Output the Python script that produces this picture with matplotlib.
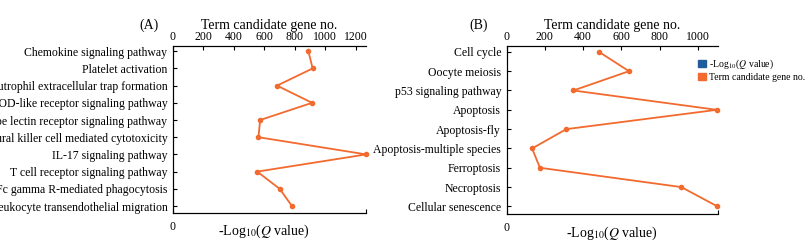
import numpy as np
import matplotlib
matplotlib.use('Agg')
import matplotlib.pyplot as plt
from matplotlib.patches import Patch

plt.rcParams['font.family'] = ['Liberation Serif', 'DejaVu Serif']
plt.rcParams['mathtext.fontset'] = 'stix'

ORANGE = '#f26a2e'
BLUE = '#1f5c99'

terms_a = ['Chemokine signaling pathway', 'Platelet activation',
           'Neutrophil extracellular trap formation', 'NOD-like receptor signaling pathway',
           'C-type lectin receptor signaling pathway', 'Natural killer cell mediated cytotoxicity',
           'IL-17 signaling pathway', 'T cell receptor signaling pathway',
           'Fc gamma R-mediated phagocytosis', 'Leukocyte transendothelial migration']
genes_a = [890, 918, 684, 914, 573, 562, 1270, 554, 701, 782]

terms_b = ['Cell cycle', 'Oocyte meiosis', 'p53 signaling pathway', 'Apoptosis',
           'Apoptosis-fly', 'Apoptosis-multiple species', 'Ferroptosis',
           'Necroptosis', 'Cellular senescence']
genes_b = [483, 640, 349, 1100, 312, 133, 174, 914, 1103]

xticks_a = [0, 200, 400, 600, 800, 1000, 1200]
xticks_b = [0, 200, 400, 600, 800, 1000]

fig = plt.figure(figsize=(8.12, 2.49), dpi=100)


def panel(rect, terms, genes, xmax, xticks, tag, tagx, labx):
    ax = fig.add_axes(rect)
    # bottom axis for -Log10(Q value), made first so twiny does not move ax's ticks later
    ax2 = ax.twiny()
    ax2.xaxis.tick_bottom()
    ax2.xaxis.set_label_position('bottom')
    ax2.set_xlim(0, 1)
    ax2.set_xticks([0, 1])
    ax2.set_xticklabels(['0', ''], fontsize=8.5)
    ax2.tick_params(axis='x', direction='in', length=3, pad=6, top=False, bottom=True)
    ax2.set_xlabel(r'-Log$_{10}$($Q$ value)', fontsize=10)
    ax2.xaxis.set_label_coords(labx, -0.06)
    ax2.spines['right'].set_visible(False)
    for s in ax2.spines.values():
        s.set_linewidth(0.8)

    y = np.arange(len(terms))
    ax.plot(genes, y, color=ORANGE, lw=1.3, marker='o', ms=3, clip_on=False, zorder=3)
    ax.set_ylim(len(terms) - 1 + 0.4, -0.3)
    ax.set_yticks(y)
    ax.set_yticklabels(terms, fontsize=8.5)
    ax.set_xlim(0, xmax)
    ax.xaxis.tick_top()
    ax.xaxis.set_label_position('top')
    ax.set_xticks(xticks)
    ax.set_xticklabels([str(t) for t in xticks], fontsize=8.5)
    ax.set_xlabel('Term candidate gene no.', fontsize=10, labelpad=2)
    ax.tick_params(axis='x', direction='in', length=3, pad=2, top=True, bottom=False,
                   labeltop=True, labelbottom=False)
    ax.tick_params(axis='y', direction='in', length=3, pad=4)
    ax.spines['right'].set_visible(False)
    for s in ax.spines.values():
        s.set_linewidth(0.8)
    fig.text(tagx, 0.9, tag, fontsize=10, ha='center', va='center')
    return ax


panel([0.213, 0.145, 0.238, 0.67], terms_a, genes_a, 1270, xticks_a, '(A)', 0.183, 0.47)
panel([0.624, 0.14, 0.26, 0.675], terms_b, genes_b, 1105, xticks_b, '(B)', 0.589, 0.5)

handles = [Patch(color=BLUE, label=r'-Log$_{10}$($Q$ value)'),
           Patch(color=ORANGE, label='Term candidate gene no.')]
fig.legend(handles=handles, loc='upper left', bbox_to_anchor=(0.855, 0.785),
           frameon=False, fontsize=7, handlelength=0.8, handleheight=0.8,
           handletextpad=0.3, labelspacing=0.2, borderaxespad=0)

fig.savefig('out.png', dpi=100)
